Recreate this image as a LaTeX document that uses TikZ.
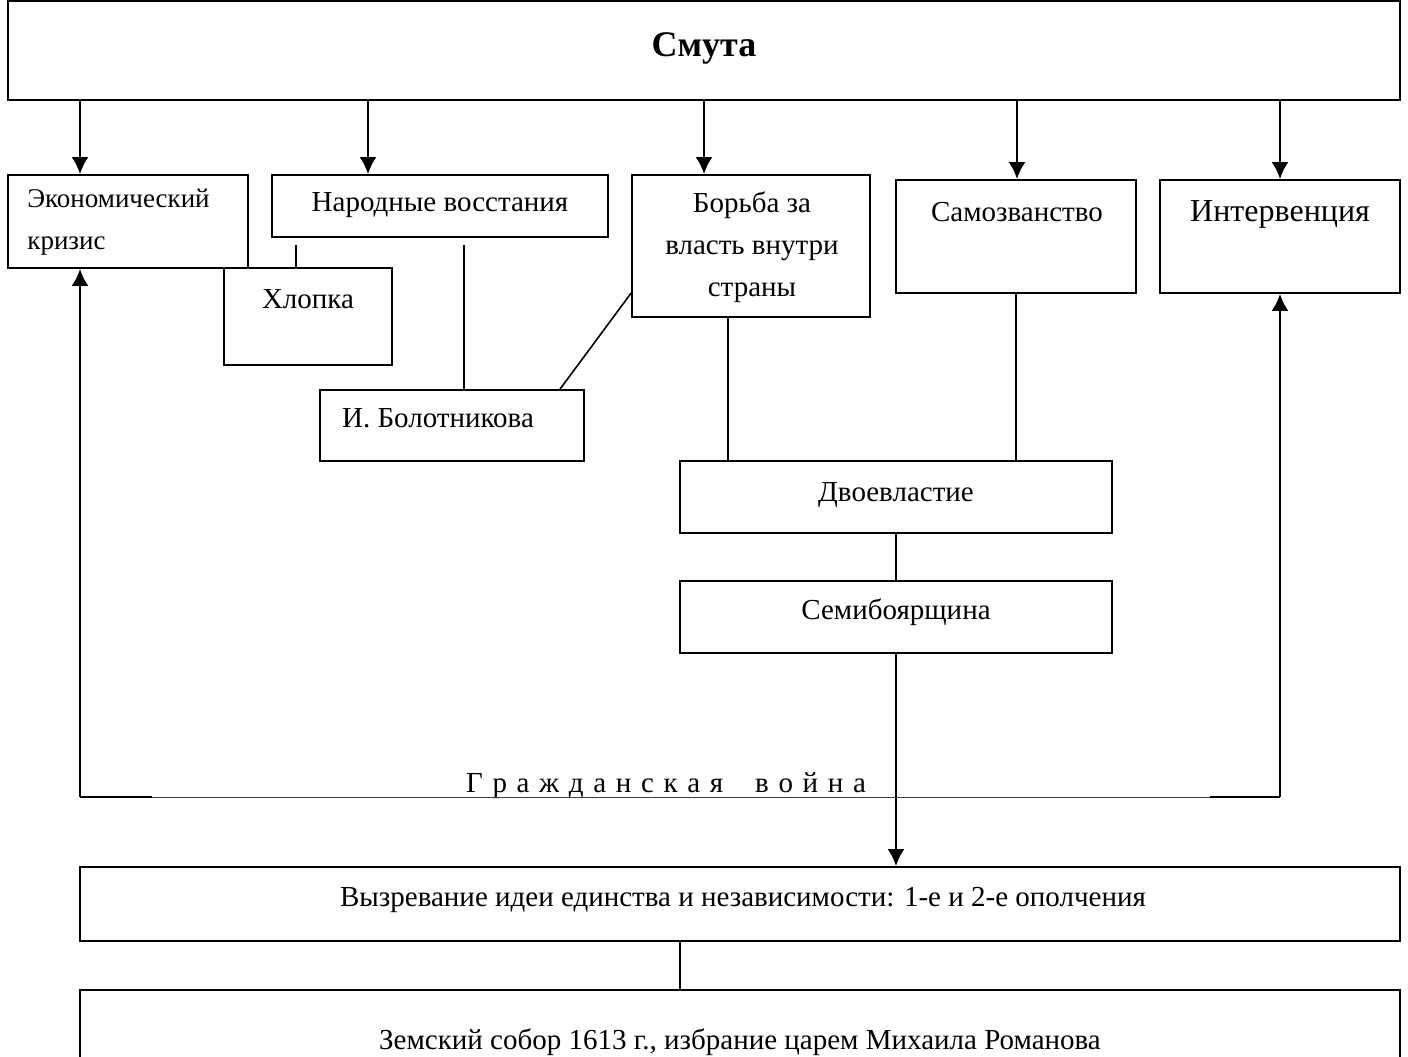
\documentclass[tikz,border=0pt]{standalone}
\usepackage{fontspec}
\setmainfont{Liberation Serif}
\usetikzlibrary{arrows.meta,fit}

\tikzset{
  box/.style={draw, line width=0.85pt, inner sep=0pt},
  arr/.style={line width=1.35pt, -{Latex[length=8.5pt,width=8.5pt]}},
  link/.style={line width=0.8pt},
  txt/.style={font=\fontsize{14.5}{21}\selectfont, inner sep=0pt},
}

\begin{document}
\begin{tikzpicture}[x=0.5pt,y=-0.5pt]
   \useasboundingbox (0,0) rectangle (1408,1056);
   % boxes
   \node[box, fit={(8,1) (1400,100)}] (smuta) {};
   \node[box, fit={(8,175) (248,268)}] (econ) {};
   \node[box, fit={(272,175) (608,237)}] (narod) {};
   \node[box, fit={(632,175) (870,317)}] (borba) {};
   \node[box, fit={(896,180) (1136,293)}] (samo) {};
   \node[box, fit={(1160,180) (1400,293)}] (interv) {};
   \node[box, fill=white, fit={(224,268) (392,365)}] (hlop) {};
   \node[box, fit={(320,390) (584,461)}] (bolot) {};
   \node[box, fit={(680,461) (1112,533)}] (dvoe) {};
   \node[box, fit={(680,581) (1112,653)}] (semi) {};
   \node[box, fit={(80,867) (1400,941)}] (vyzr) {};
   \node[box, fit={(80,990) (1400,1080)}] (zems) {};
   % texts
   \node[txt, anchor=mid, font=\fontsize{18}{21}\selectfont\bfseries] (tsmuta) at (704,52) {Смута};
   \node[txt, anchor=west, align=left, font=\fontsize{13.5}{21}\selectfont] (tecon) at (27,222) {Экономический\\кризис};
   \node[txt, anchor=mid] (tnarod) at (440,207) {Народные восстания};
   \node[txt, align=center] (tborba) at (752,247) {Борьба за\\власть внутри\\страны};
   \node[txt, anchor=mid] (tsamo) at (1017,217) {Самозванство};
   \node[txt, anchor=mid, font=\fontsize{16}{21}\selectfont] (tinterv) at (1280,217) {Интервенция};
   \node[txt, anchor=mid] (thlop) at (308,304) {Хлопка};
   \node[txt, anchor=mid] (tbolot) at (438,423) {И. Болотникова};
   \node[txt, anchor=mid] (tdvoe) at (896,497) {Двоевластие};
   \node[txt, anchor=mid] (tsemi) at (896,615) {Семибоярщина};
   \node[txt, anchor=mid] (twar) at (666,788) {Г\,\,р\,\,а\,\,ж\,\,д\,\,а\,\,н\,\,с\,\,к\,\,а\,\,я\hspace{1.1em}в\,\,о\,\,й\,\,н\,\,а};
   \node[txt, anchor=mid] (tvyzr) at (743,902) {Вызревание идеи единства и независимости: 1-е и 2-е ополчения};
   \node[txt, anchor=mid] (tzems) at (740,1045) {Земский собор 1613 г., избрание царем Михаила Романова};
   % helper points
   \coordinate (xa) at (80,0);
   \coordinate (xb) at (368,0);
   \coordinate (xc) at (704,0);
   \coordinate (xd) at (1017,0);
   \coordinate (xe) at (1280,0);
   \coordinate (hl) at (296,245);
   \coordinate (bl) at (464,245);
   \coordinate (war) at (80,797);
   \coordinate (wal) at (152,797);
   \coordinate (war2) at (1210,797);
   \coordinate (wend) at (1280,797);
   % arrows from the top
   \draw[arr] (xa |- smuta.south) -- (xa |- econ.north);
   \draw[arr] (xb |- smuta.south) -- (xb |- narod.north);
   \draw[arr] (xc |- smuta.south) -- (xc |- borba.north);
   \draw[arr] (xd |- smuta.south) -- (xd |- samo.north);
   \draw[arr] (xe |- smuta.south) -- (xe |- interv.north);
   % links
   \draw[link] (hl) -- (hl |- hlop.north);
   \draw[link] (bl) -- (bl |- bolot.north);
   \draw[link] (bolot.north -| 560,0) -- (borba.west |- 0,293);
   \draw[link] (borba.south -| 728,0) -- (dvoe.north -| 728,0);
   \draw[link] (samo.south) -- (samo.south |- dvoe.north);
   \draw[link] (dvoe.south) -- (semi.north);
   \draw[arr] (semi.south) -- (semi.south |- vyzr.north);
   \draw[link] (vyzr.south -| 680,0) -- (zems.north -| 680,0);
   % civil war
   \draw[line width=1.35pt] (war) -- (wal);
   \draw[line width=0.5pt, black!75] (wal) -- (war2);
   \draw[line width=1.35pt] (war2) -- (wend);
   \draw[arr] (war) -- (war |- econ.south);
   \draw[arr] (wend) -- (wend |- interv.south);
\end{tikzpicture}
\end{document}
